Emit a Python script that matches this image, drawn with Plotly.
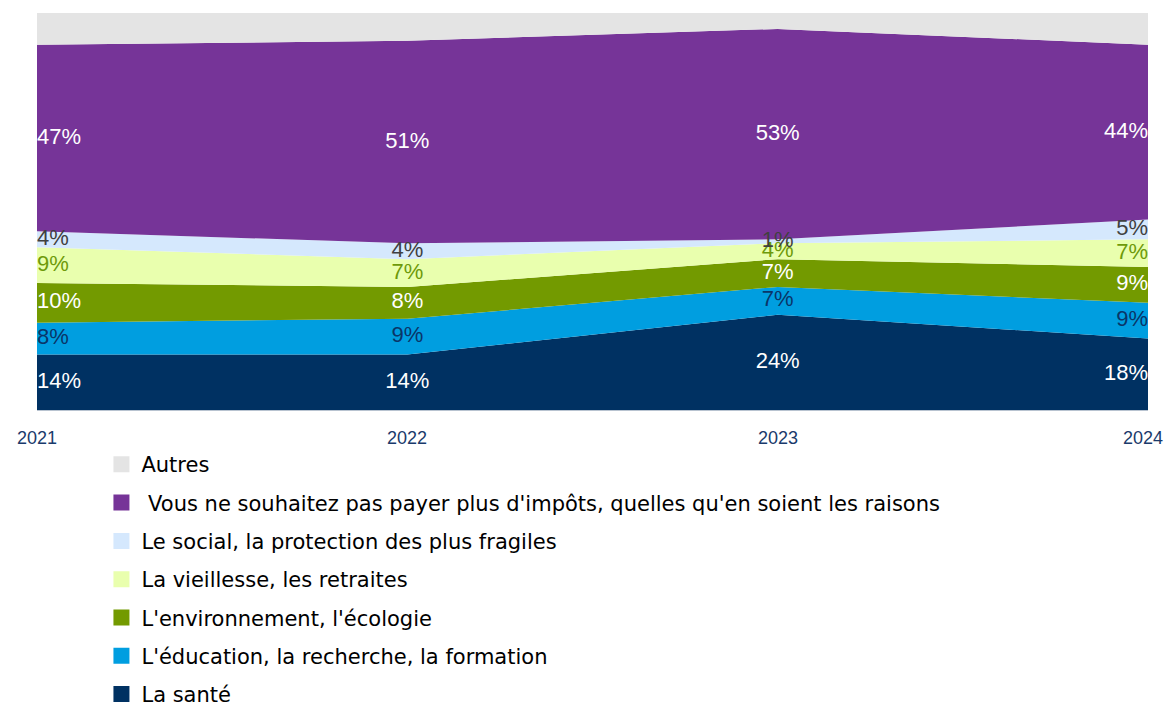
import plotly.graph_objects as go

years = [2021, 2022, 2023, 2024]
tick_labels = ["2021", "2022", "2023", "2024"]

sante = [14, 14, 24, 18]
education = [8, 9, 7, 9]
environnement = [10, 8, 7, 9]
vieillesse = [9, 7, 4, 7]
social = [4, 4, 1, 5]
impots = [47, 51, 53, 44]
autres = [8, 7, 4, 8]

names = [
    "La santé",
    "L'éducation, la recherche, la formation",
    "L'environnement, l'écologie",
    "La vieillesse, les retraites",
    "Le social, la protection des plus fragiles",
    " Vous ne souhaitez pas payer plus d'impôts, quelles qu'en soient les raisons",
    "Autres",
]
series = [sante, education, environnement, vieillesse, social, impots, autres]
colors = ["#003162", "#009EE0", "#739A00", "#E9FFAE", "#D5E8FD", "#763498", "#E4E4E4"]
label_colors = ["#FFFFFF", "#0A3568", "#FFFFFF", "#6E9A0A", "#404040", "#FFFFFF", None]

fig = go.Figure()

cum = [0, 0, 0, 0]
label_traces = []
for i, (name, vals, col) in enumerate(zip(names, series, colors)):
    fig.add_trace(go.Scatter(
        x=years, y=vals, name=name, stackgroup="one", mode="none",
        fillcolor=col, line=dict(width=0), showlegend=False, hoverinfo="skip",
    ))
    centers = [c + v / 2 for c, v in zip(cum, vals)]
    cum = [c + v for c, v in zip(cum, vals)]
    if label_colors[i] is not None:
        label_traces.append((centers, vals, label_colors[i]))

positions = ["middle right", "middle center", "middle center", "middle left"]
for centers, vals, lc in label_traces:
    fig.add_trace(go.Scatter(
        x=years, y=centers, mode="text", text=[f"{v}%" for v in vals],
        textposition=positions, textfont=dict(size=22, color=lc, family="Liberation Sans, Arial"),
        showlegend=False, hoverinfo="skip", cliponaxis=False,
    ))

# legend entries (reverse order, Autres on top)
for i in range(len(names) - 1, -1, -1):
    fig.add_trace(go.Scatter(
        x=[None], y=[None], mode="markers", name=names[i],
        marker=dict(symbol="square", size=16, color=colors[i]),
        legendgroup=f"g{i}", showlegend=True,
    ))

# x tick labels as annotations so that the last one is not clipped at the page edge
anchors = ["center", "center", "center", "right"]
shifts = [0, 0, 0, 17]
for yr, lab, anc, sh in zip(years, tick_labels, anchors, shifts):
    fig.add_annotation(
        x=yr, y=0, xref="x", yref="paper", text=lab, showarrow=False,
        xanchor=anc, yanchor="middle", yshift=-28, xshift=sh,
        font=dict(size=18, color="#1A3A6B", family="Liberation Sans, Arial"),
    )

fig.update_layout(
    width=1165, height=702,
    margin=dict(l=29, r=25, t=5, b=300, autoexpand=False),
    plot_bgcolor="white", paper_bgcolor="white",
    font=dict(family="DejaVu Sans, Liberation Sans, Arial", size=21, color="#000000"),
    showlegend=True,
    legend=dict(
        x=0.058, y=-0.086, xanchor="left", yanchor="top",
        traceorder="grouped", tracegroupgap=8,
        font=dict(size=21, color="#000000", family="DejaVu Sans, Liberation Sans, Arial"),
        bgcolor="rgba(0,0,0,0)",
        itemsizing="trace",
    ),
    xaxis=dict(
        range=[2021, 2024], tickvals=years, showticklabels=False,
        showgrid=False, zeroline=False, showline=True, linecolor="#B8C3D0", linewidth=1,
        ticks="", automargin=False,
    ),
    yaxis=dict(range=[0, 100], showgrid=False, zeroline=False, showticklabels=False,
               showline=False, automargin=False),
)

fig.write_html("out.html")
